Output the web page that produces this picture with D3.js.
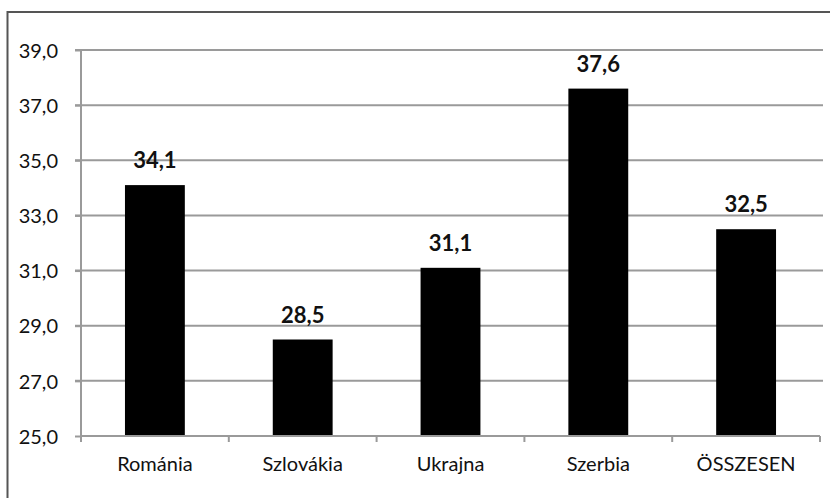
<!DOCTYPE html>
<html><head><meta charset="utf-8">
<script src="https://cdn.jsdelivr.net/npm/d3@7"></script>
<style>
html,body{margin:0;padding:0;background:#fff;}
svg{display:block;}
text{font-family:Lato,"Open Sans",sans-serif;fill:#111;}
</style></head>
<body>
<svg id="c" width="830" height="498"></svg>
<script>
const categories = ["Románia","Szlovákia","Ukrajna","Szerbia","ÖSSZESEN"];
const values = [34.1, 28.5, 31.1, 37.6, 32.5];
const yTicks = [25, 27, 29, 31, 33, 35, 37, 39];

const svg = d3.select("#c");
const W = 830, H = 498;
const x0 = 81, x1 = 820, yTop = 50, yBot = 436;

svg.append("rect").attr("x",7.5).attr("y",12).attr("width",W).attr("height",H)
  .attr("fill","none").attr("stroke","#555").attr("stroke-width",2);

const x = d3.scaleBand().domain(categories).range([x0,x1]).paddingInner(0.595).paddingOuter(0.2975);
const xb = d3.scaleBand().domain(categories).range([x0,x1]);
const y = d3.scaleLinear().domain([25,39]).range([yBot,yTop]);

// gridlines
svg.append("g").selectAll("line").data(yTicks.filter(t=>t>25)).join("line")
  .attr("x1",x0-6).attr("x2",823).attr("y1",d=>y(d)).attr("y2",d=>y(d))
  .attr("stroke","#9a9a9a").attr("stroke-width",2);

// y axis
const ya = svg.append("g").attr("transform",`translate(${x0},0)`)
  .call(d3.axisLeft(y).tickValues(yTicks).tickSize(6).tickPadding(17)
    .tickFormat(d=>d3.format(".1f")(d).replace(".",",")));
ya.select(".domain").attr("stroke","#9a9a9a").attr("stroke-width",2).attr("d",`M-0,${yTop}V${yBot}`);
ya.selectAll(".tick line").attr("stroke","#9a9a9a").attr("stroke-width",2);
ya.selectAll(".tick text").attr("font-size",20).attr("fill","#111").attr("dy","0.36em");

// bars
svg.append("g").selectAll("rect").data(values).join("rect")
  .attr("x",(d,i)=>x(categories[i])).attr("width",x.bandwidth())
  .attr("y",d=>y(d)).attr("height",d=>yBot-y(d)).attr("fill","#000");

// x axis
const xa = svg.append("g").attr("transform",`translate(0,${yBot})`)
  .call(d3.axisBottom(xb).tickSize(0).tickPadding(21));
xa.select(".domain").attr("stroke","#9a9a9a").attr("stroke-width",2).attr("d",`M${x0},0H${x1}`);
xa.selectAll(".tick text").attr("font-size",20).attr("fill","#111").attr("dy","0.71em");
xa.append("g").selectAll("line").data(d3.range(categories.length+1)).join("line")
  .attr("x1",i=>x0+i*xb.step()).attr("x2",i=>x0+i*xb.step())
  .attr("y1",0).attr("y2",6).attr("stroke","#9a9a9a").attr("stroke-width",2);

// value labels
svg.append("g").selectAll("text").data(values).join("text")
  .attr("x",(d,i)=>x(categories[i])+x.bandwidth()/2).attr("y",d=>y(d)-17)
  .attr("text-anchor","middle").attr("font-size",22).attr("font-weight","bold")
  .text(d=>d3.format(".1f")(d).replace(".",","));
</script>
</body></html>
